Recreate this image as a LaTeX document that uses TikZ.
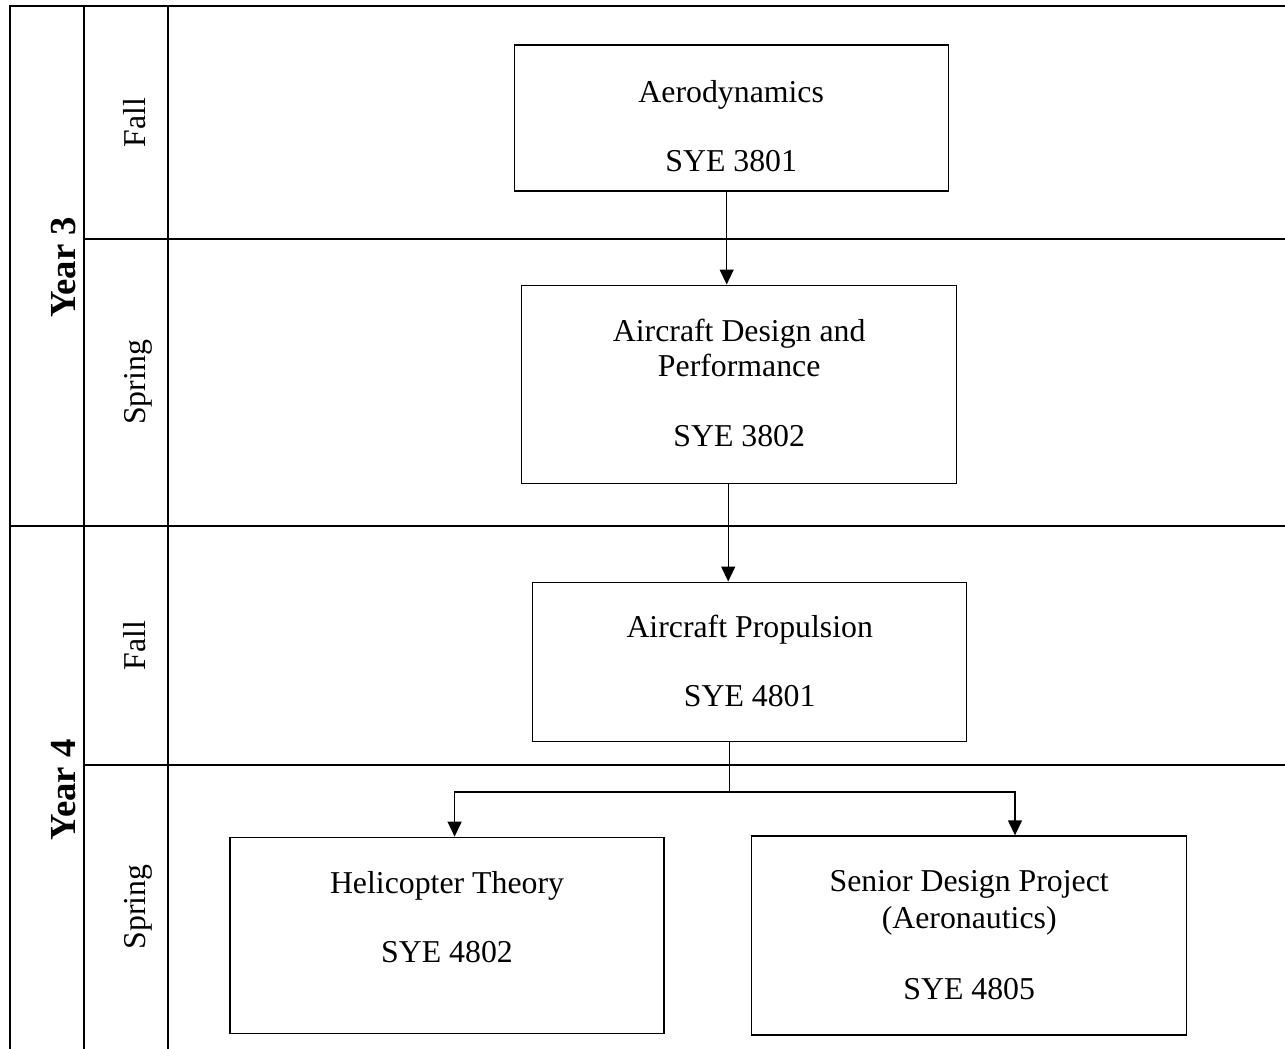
\documentclass[tikz,border=0pt]{standalone}
\usepackage{fontspec}
\setmainfont{Liberation Serif}
\usetikzlibrary{arrows.meta}
\begin{document}
\begin{tikzpicture}[x=1pt,y=-1pt,
  gridline/.style={line width=2pt},
  coursebox/.style={draw, line width=1.4pt, inner sep=0pt},
  txt/.style={anchor=base, inner sep=0pt, font=\fontsize{31.8}{35}\selectfont},
  sem/.style={anchor=base, rotate=90, inner sep=0pt, font=\fontsize{31.8}{35}\selectfont},
  yr/.style={anchor=base, rotate=90, inner sep=0pt, font=\fontsize{36.7}{40}\selectfont\bfseries},
  link/.style={line width=1.4pt},
  arr/.style={link, -{Triangle[width=14pt,length=15pt]}}]
\useasboundingbox (0,0) rectangle (1285,1049);

% table grid
\draw[gridline] (1285,6) -- (10,6) -- (10,1049);
\draw[gridline] (84,6) -- (84,1049);
\draw[gridline] (168,6) -- (168,1049);
\draw[gridline] (84,239) -- (1285,239);
\draw[gridline] (10,526) -- (1285,526);
\draw[gridline] (84,765) -- (1285,765);

% year and semester labels
\node[yr] (year3) at (75,267.5) {Year 3};
\node[yr] (year4) at (75,790) {Year 4};
\node[sem] (fall3) at (145,122.5) {Fall};
\node[sem] (spring3) at (145,382.5) {Spring};
\node[sem] (fall4) at (145,645.5) {Fall};
\node[sem] (spring4) at (145,907) {Spring};

% course boxes
\node[coursebox, minimum width=434pt, minimum height=146pt] (aero) at (731.2,117.9) {};
\node[coursebox, minimum width=435pt, minimum height=198pt] (design) at (739.2,384.2) {};
\node[coursebox, minimum width=434pt, minimum height=159pt] (prop) at (749.7,661.7) {};
\node[coursebox, minimum width=434pt, minimum height=196pt] (heli) at (447,935.3) {};
\node[coursebox, minimum width=435pt, minimum height=199pt] (senior) at (969.2,935.5) {};

% course texts
\node[txt] (aeroA) at (731.2,102) {Aerodynamics};
\node[txt] (aeroB) at (731.2,171) {SYE 3801};
\node[txt] (designA) at (739.2,341) {Aircraft Design and};
\node[txt] (designB) at (739.2,376.7) {Performance};
\node[txt] (designC) at (739.2,446.7) {SYE 3802};
\node[txt] (propA) at (749.7,637.7) {Aircraft Propulsion};
\node[txt] (propB) at (749.7,706.7) {SYE 4801};
\node[txt] (heliA) at (447,893.3) {Helicopter Theory};
\node[txt] (heliB) at (447,962.3) {SYE 4802};
\node[txt] (seniorA) at (969.2,891.7) {Senior Design Project};
\node[txt] (seniorB) at (969.2,928.5) {(Aeronautics)};
\node[txt] (seniorC) at (969.2,999) {SYE 4805};

% connectors
\draw[arr] ([xshift=-4.5pt]aero.south) -- ([xshift=-4.5pt]aero.south |- design.north);
\draw[arr] ([xshift=-11pt]design.south) -- ([xshift=-11pt]design.south |- prop.north);
\coordinate (fork) at (729.7,792);
\draw[link] ([xshift=-20pt]prop.south) -- (fork);
\draw[arr] (fork) -| ([xshift=7.6pt]heli.north);
\draw[arr] (fork) -| ([xshift=45.8pt]senior.north);
\end{tikzpicture}
\end{document}
